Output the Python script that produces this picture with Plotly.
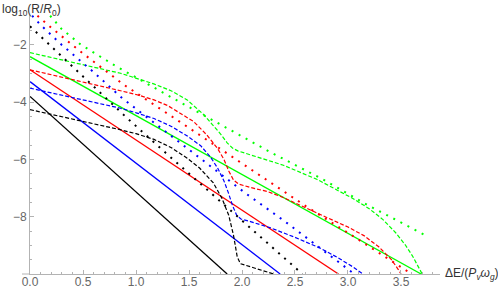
import plotly.graph_objects as go

# ---------------- data ----------------
x_ticks = [0.0, 0.5, 1.0, 1.5, 2.0, 2.5, 3.0, 3.5]
x_tick_text = ["0.0", "0.5", "1.0", "1.5", "2.0", "2.5", "3.0", "3.5"]
y_ticks = [-8, -6, -4, -2]
y_tick_text = ["\u22128", "\u22126", "\u22124", "\u22122"]

# solid (straight) lines
black_solid_x = [0.0, 1.86]
black_solid_y = [-3.80, -10.0]
blue_solid_x = [0.0, 2.36]
blue_solid_y = [-3.28, -10.0]
red_solid_x = [0.0, 2.91]
red_solid_y = [-2.87, -10.0]
green_solid_x = [0.0, 3.69]
green_solid_y = [-2.41, -10.0]

# dashed curves
black_dash_x = [0.0, 0.3, 0.6, 0.85, 1.0, 1.17, 1.33, 1.48, 1.6, 1.73, 1.81, 1.875, 1.92, 1.955, 1.985, 2.05, 2.11, 2.24, 2.3]
black_dash_y = [-4.26, -4.5, -4.74, -4.96, -5.1, -5.3, -5.58, -5.95, -6.3, -6.82, -7.35, -7.95, -8.65, -9.4, -9.64, -9.72, -9.79, -9.94, -10.0]
blue_dash_x = [0.0, 0.4, 0.854, 1.01, 1.17, 1.325, 1.48, 1.61, 1.70, 1.77, 1.83, 1.87, 1.91, 1.95, 1.99, 2.08, 2.27, 2.5, 2.74, 2.9, 3.05, 3.14]
blue_dash_y = [-3.51, -3.85, -4.21, -4.38, -4.57, -4.83, -5.17, -5.52, -5.9, -6.3, -6.75, -7.15, -7.6, -7.95, -8.08, -8.17, -8.39, -8.72, -9.1, -9.42, -9.76, -10.0]
red_dash_x = [0.0, 0.4, 0.854, 1.01, 1.17, 1.3, 1.42, 1.545, 1.67, 1.77, 1.83, 1.875, 1.92, 1.97, 2.08, 2.24, 2.39, 2.61, 2.82, 3.0, 3.15, 3.29, 3.41, 3.47, 3.5]
red_dash_y = [-2.87, -3.2, -3.6, -3.74, -3.92, -4.12, -4.38, -4.68, -5.15, -5.62, -6.0, -6.4, -6.72, -6.86, -6.98, -7.12, -7.33, -7.69, -8.06, -8.36, -8.66, -9.05, -9.5, -9.82, -10.0]
green_dash_x = [0.0, 0.5, 0.854, 1.168, 1.33, 1.483, 1.56, 1.64, 1.72, 1.80, 1.86, 1.91, 1.96, 2.05, 2.17, 2.39, 2.71, 2.9, 3.05, 3.2, 3.33, 3.45, 3.54, 3.61, 3.66, 3.70]
green_dash_y = [-2.27, -2.68, -2.99, -3.36, -3.6, -3.92, -4.16, -4.44, -4.78, -5.12, -5.42, -5.6, -5.7, -5.8, -5.93, -6.2, -6.70, -7.06, -7.37, -7.72, -8.1, -8.56, -8.98, -9.38, -9.7, -10.0]

# dotted curves
black_dot_x = [0.0, 0.2, 0.4, 0.65, 0.9, 1.28, 1.42, 1.7, 2.06, 2.3, 2.52, 2.57]
black_dot_y = [-1.35, -2.05, -2.78, -3.64, -4.5, -5.77, -6.24, -7.15, -8.33, -9.1, -9.84, -10.0]
blue_dot_x = [0.02, 0.1, 0.3, 0.6, 0.87, 1.2, 1.69, 2.03, 2.4, 2.73, 3.06]
blue_dot_y = [-0.98, -1.3, -2.0, -2.95, -3.86, -4.8, -6.18, -7.17, -8.15, -9.08, -10.0]
red_dot_x = [0.07, 0.2, 0.5, 0.885, 1.4, 2.04, 2.11, 2.61, 3.1, 3.57, 3.6]
red_dot_y = [-0.98, -1.4, -2.3, -3.39, -4.65, -6.24, -6.41, -7.65, -8.8, -9.9, -10.0]
green_dot_x = [0.19, 0.3, 0.476, 0.8, 1.29, 1.8, 2.27, 2.74, 3.19, 3.73]
green_dot_y = [-0.98, -1.45, -1.98, -2.72, -3.74, -4.78, -5.75, -6.65, -7.6, -8.65]

BLACK, BLUE, RED, GREEN = "#000000", "#0000ff", "#ff0000", "#00ff00"
AXIS = "#b3b3b3"

fig = go.Figure()


def add(x, y, color, style):
    if style == "solid":
        line = dict(color=color, width=1.3)
    elif style == "dash":
        line = dict(color=color, width=1.2, dash="4px,2px")
    else:
        line = dict(color=color, width=2, dash="2px,6px")
    fig.add_trace(go.Scatter(x=x, y=y, mode="lines", line=line,
                             hoverinfo="skip", showlegend=False))


add(black_solid_x, black_solid_y, BLACK, "solid")
add(blue_solid_x, blue_solid_y, BLUE, "solid")
add(red_solid_x, red_solid_y, RED, "solid")
add(green_solid_x, green_solid_y, GREEN, "solid")
add(black_dash_x, black_dash_y, BLACK, "dash")
add(blue_dash_x, blue_dash_y, BLUE, "dash")
add(red_dash_x, red_dash_y, RED, "dash")
add(green_dash_x, green_dash_y, GREEN, "dash")
add(black_dot_x, black_dot_y, BLACK, "dot")
add(blue_dot_x, blue_dot_y, BLUE, "dot")
add(red_dot_x, red_dot_y, RED, "dot")
add(green_dot_x, green_dot_y, GREEN, "dot")

W, H = 498, 290
L, R, T, B = 30, 58, 15, 16
pw = W - L - R
ph = H - T - B

fig.update_layout(
    width=W, height=H,
    margin=dict(l=L, r=R, t=T, b=B, pad=0, autoexpand=False),
    plot_bgcolor="white", paper_bgcolor="white",
    font=dict(family="Liberation Sans, Arial, sans-serif", size=12, color="#666666"),
    xaxis=dict(range=[0, 3.868], showgrid=False, zeroline=False,
               showline=True, linecolor=AXIS, linewidth=1,
               ticks="inside", ticklen=4, tickcolor=AXIS, tickwidth=1,
               tickvals=x_ticks, ticktext=x_tick_text, ticklabelstandoff=-3,
               tickfont=dict(size=12, color="#666666"),
               minor=dict(ticks="inside", ticklen=2, dtick=0.1, tick0=0, tickcolor=AXIS, showgrid=False)),
    yaxis=dict(range=[-10, -0.955], showgrid=False, zeroline=False,
               showline=True, linecolor=AXIS, linewidth=1,
               ticks="inside", ticklen=4, tickcolor=AXIS, tickwidth=1,
               tickvals=y_ticks, ticktext=y_tick_text,
               tickfont=dict(size=12, color="#666666"),
               minor=dict(ticks="inside", ticklen=2, dtick=0.5, tick0=0, tickcolor=AXIS, showgrid=False)),
    shapes=[dict(type="line", xref="paper", yref="paper", x0=-8 / pw, x1=0, y0=0, y1=0,
                 line=dict(color=AXIS, width=1))],
    annotations=[
        dict(text="log<sub>10</sub>(R/<i>R</i><sub>0</sub>)", xref="paper", yref="paper",
             x=-L / pw, y=1 + T / ph, xanchor="left", yanchor="top", showarrow=False,
             font=dict(size=12, color="#333333")),
        dict(text="\u0394E/(<i>P</i><sub><i>v</i></sub><i>\u03c9</i><sub><i>g</i></sub>)",
             xref="paper", yref="paper", x=1 + 3 / pw, y=0, xanchor="left", yanchor="middle",
             showarrow=False, font=dict(size=12, color="#333333")),
    ],
)

fig.write_html("out.html", config={"displayModeBar": False, "staticPlot": True},
               post_script="document.body.style.margin='0';document.body.style.overflow='hidden';")
